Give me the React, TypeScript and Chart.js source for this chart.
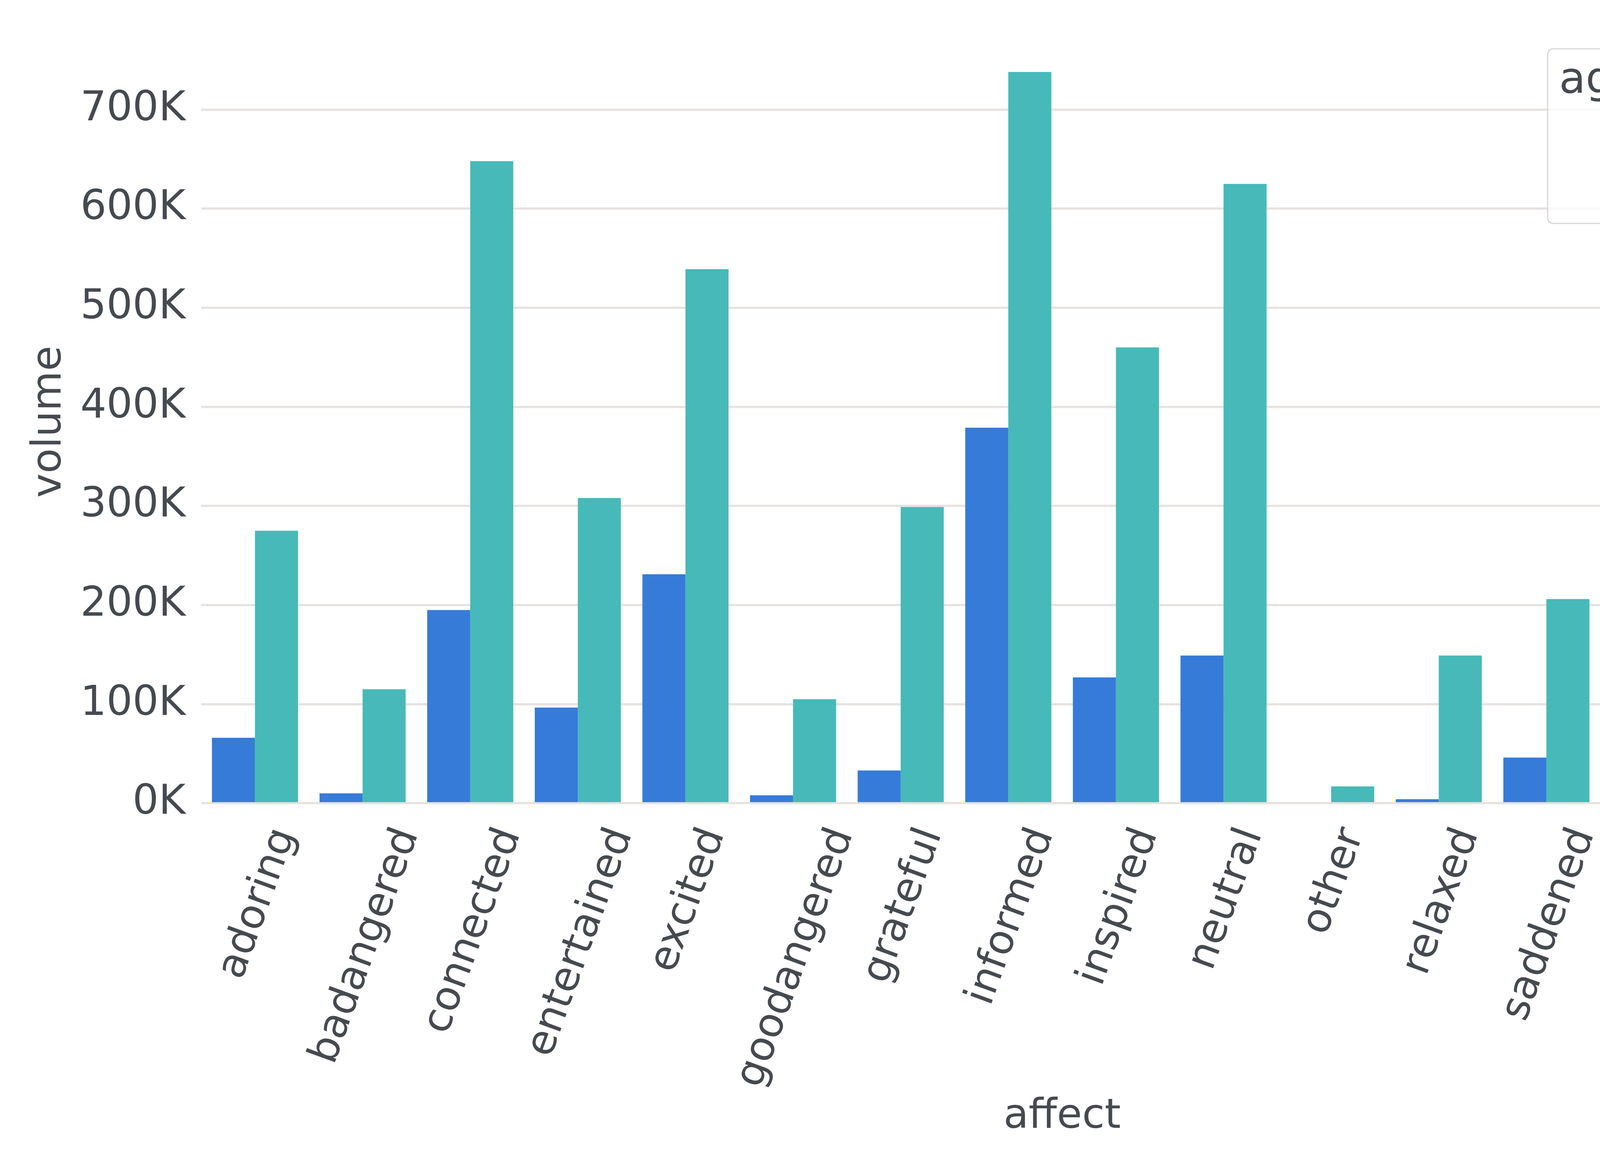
import React, { useEffect, useRef } from 'react';
import { Chart, registerables } from 'chart.js';

Chart.register(...registerables);

// ---- data ----
const categories = [
  'adoring', 'badangered', 'connected', 'entertained', 'excited', 'goodangered',
  'grateful', 'informed', 'inspired', 'neutral', 'other', 'relaxed',
  'saddened', 'scared', 'surprised', 'touched',
];
const series3x = [66000, 10000, 195000, 96500, 231000, 8000, 33000, 379000, 127000, 149000, 0, 4000, 46000, 37000, 45000, 43000];
const series1x = [275000, 115000, 648000, 308000, 539000, 105000, 299000, 738000, 460000, 625000, 17000, 149000, 206000, 205000, 344000, 366000];
const seriesNames = ['3x', '1x'];
const seriesColors = ['#367BD8', '#47B9B9'];
const yTickValues = [0, 100000, 200000, 300000, 400000, 500000, 600000, 700000];
const yMax = 770000;
const legendTitle = 'agreement rate';
const xTitle = 'affect';
const yTitle = 'volume';

// ---- style ----
const FONT = 'DejaVu Sans';
const TEXT = '#454A50';
const GRID = '#E6E2DF';
const TICK_SIZE = 105;
const LEGEND_SIZE = 111;
const W_PX = 5000;
const H_PX = 3000;

const rotatedXLabels = {
  id: 'rotatedXLabels',
  afterDraw(chart: any) {
    const ctx = chart.ctx;
    const xs = chart.scales.x;
    const area = chart.chartArea;
    const ang = (70 * Math.PI) / 180;
    ctx.save();
    ctx.font = `${TICK_SIZE}px "${FONT}"`;
    ctx.fillStyle = TEXT;
    ctx.textAlign = 'center';
    ctx.textBaseline = 'alphabetic';
    const h = TICK_SIZE * 1.164;
    const top = area.bottom + 45;
    categories.forEach((lab, i) => {
      const w = ctx.measureText(lab).width;
      const H = w * Math.sin(ang) + h * Math.cos(ang);
      const cx = xs.getPixelForTick(i);
      const cy = top + H / 2;
      ctx.save();
      ctx.translate(cx, cy);
      ctx.rotate(-ang);
      ctx.fillText(lab, 0, 0.346 * TICK_SIZE);
      ctx.restore();
    });
    ctx.restore();
  },
};

const boxLegend = {
  id: 'boxLegend',
  afterDraw(chart: any) {
    const ctx = chart.ctx;
    const a = chart.chartArea;
    const W = 928;
    const H = 447;
    const L = a.right - 33 - W;
    const T = a.top + 22;
    ctx.save();
    ctx.beginPath();
    ctx.roundRect(L, T, W, H, 14);
    ctx.fillStyle = 'rgba(255,255,255,0.8)';
    ctx.fill();
    ctx.lineWidth = 3;
    ctx.strokeStyle = 'rgba(204,204,204,0.8)';
    ctx.stroke();
    ctx.fillStyle = TEXT;
    ctx.font = `${LEGEND_SIZE}px "${FONT}"`;
    ctx.textAlign = 'center';
    ctx.textBaseline = 'alphabetic';
    ctx.fillText(legendTitle, L + W / 2, T + 112);
    chart.data.datasets.forEach((ds: any, i: number) => {
      const rowY = T + 205 + i * 141;
      ctx.fillStyle = ds.backgroundColor;
      ctx.fillRect(L + 298, rowY, 139, 48);
      ctx.fillStyle = TEXT;
      ctx.textAlign = 'left';
      ctx.fillText(ds.label, L + 492, rowY + 50);
    });
    ctx.restore();
  },
};

export default function App() {
  const ref = useRef<HTMLCanvasElement | null>(null);
  const dpr = typeof window !== 'undefined' && window.devicePixelRatio ? window.devicePixelRatio : 1;
  const cssW = W_PX / dpr;
  const cssH = H_PX / dpr;

  useEffect(() => {
    document.body.style.margin = '0';
    document.body.style.overflow = 'hidden';
    if (!ref.current) return;
    Chart.defaults.font.family = FONT;
    const chart = new Chart(ref.current, {
      type: 'bar',
      data: {
        labels: categories,
        datasets: [
          { label: seriesNames[0], data: series3x, backgroundColor: seriesColors[0], borderWidth: 0 },
          { label: seriesNames[1], data: series1x, backgroundColor: seriesColors[1], borderWidth: 0 },
        ],
      },
      options: {
        responsive: false,
        animation: false,
        devicePixelRatio: 1,
        layout: { padding: { top: 88, right: 77, bottom: 0, left: 0 } },
        datasets: { bar: { categoryPercentage: 0.8, barPercentage: 1.0 } },
        plugins: { legend: { display: false }, tooltip: { enabled: false } },
        scales: {
          x: {
            grid: { display: false },
            border: { display: false },
            ticks: { display: false },
            title: {
              display: true,
              text: xTitle,
              color: TEXT,
              font: { family: FONT, size: TICK_SIZE },
              padding: { top: 0, bottom: 77 },
            },
            afterFit: (s: any) => {
              s.height = 944;
            },
          },
          y: {
            min: 0,
            max: yMax,
            grid: { color: GRID, lineWidth: 5.5, drawTicks: false },
            border: { display: false },
            ticks: {
              color: TEXT,
              font: { family: FONT, size: TICK_SIZE },
              padding: 40,
              callback: (v: any) => `${Math.round(Number(v) / 1000)}K`,
            },
            afterBuildTicks: (s: any) => {
              s.ticks = yTickValues.map((v) => ({ value: v }));
            },
            title: {
              display: true,
              text: yTitle,
              color: TEXT,
              font: { family: FONT, size: TICK_SIZE },
              padding: { top: 65, bottom: 0 },
            },
            afterFit: (s: any) => {
              s.width = 515;
            },
          },
        },
      } as any,
      plugins: [rotatedXLabels, boxLegend],
    });
    return () => chart.destroy();
  }, []);

  return (
    <div style={{ width: cssW, height: cssH, position: 'relative', overflow: 'hidden' }}>
      <canvas
        ref={ref}
        width={W_PX}
        height={H_PX}
        style={{ display: 'block', width: `${cssW}px`, height: `${cssH}px` }}
      />
    </div>
  );
}
